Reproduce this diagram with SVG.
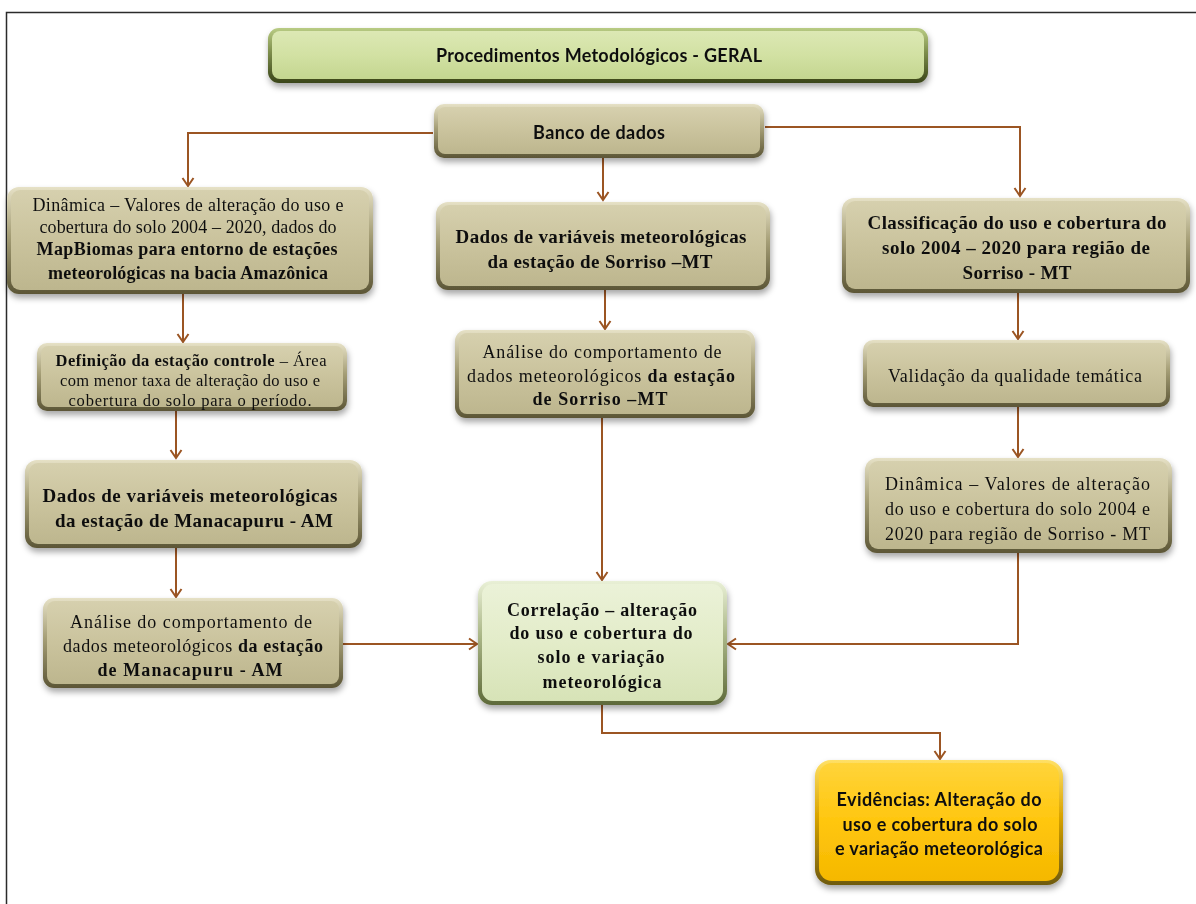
<svg xmlns="http://www.w3.org/2000/svg" width="1196" height="904" viewBox="0 0 1196 904">
<defs>
  <filter id="sh" x="-10%" y="-15%" width="125%" height="140%">
    <feDropShadow dx="1" dy="4" stdDeviation="3" flood-color="#000" flood-opacity="0.35"/>
  </filter>
  <linearGradient id="tanEdge" x1="0" y1="0" x2="0" y2="1">
    <stop offset="0" stop-color="#E6E1C6"/>
    <stop offset="0.45" stop-color="#A59E76"/>
    <stop offset="1" stop-color="#5C5636"/>
  </linearGradient>
  <linearGradient id="tanBody" x1="0" y1="0" x2="0" y2="1">
    <stop offset="0" stop-color="#D6D0AE"/>
    <stop offset="0.5" stop-color="#CAC39D"/>
    <stop offset="1" stop-color="#BDB68E"/>
  </linearGradient>
  <linearGradient id="grnEdge" x1="0" y1="0" x2="0" y2="1">
    <stop offset="0" stop-color="#B9CC84"/>
    <stop offset="0.45" stop-color="#7C8C4A"/>
    <stop offset="1" stop-color="#3A4519"/>
  </linearGradient>
  <linearGradient id="grnBody" x1="0" y1="0" x2="0" y2="1">
    <stop offset="0" stop-color="#DCE8B4"/>
    <stop offset="0.5" stop-color="#D2E1A3"/>
    <stop offset="1" stop-color="#C4D690"/>
  </linearGradient>
  <linearGradient id="lgEdge" x1="0" y1="0" x2="0" y2="1">
    <stop offset="0" stop-color="#E9F0D6"/>
    <stop offset="0.45" stop-color="#A9B585"/>
    <stop offset="1" stop-color="#5E6A3A"/>
  </linearGradient>
  <linearGradient id="lgBody" x1="0" y1="0" x2="0" y2="1">
    <stop offset="0" stop-color="#EBF2D8"/>
    <stop offset="0.5" stop-color="#E3ECC9"/>
    <stop offset="1" stop-color="#D7E3B7"/>
  </linearGradient>
  <linearGradient id="ylEdge" x1="0" y1="0" x2="0" y2="1">
    <stop offset="0" stop-color="#FFE066"/>
    <stop offset="0.45" stop-color="#D9A400"/>
    <stop offset="1" stop-color="#6E5A10"/>
  </linearGradient>
  <linearGradient id="ylBody" x1="0" y1="0" x2="0" y2="1">
    <stop offset="0" stop-color="#FFD43A"/>
    <stop offset="0.5" stop-color="#FFC60E"/>
    <stop offset="1" stop-color="#F5B800"/>
  </linearGradient>
  <marker id="arr" viewBox="-10 -7 12 14" markerWidth="12" markerHeight="14" refX="0" refY="0" orient="auto" markerUnits="userSpaceOnUse">
    <path d="M-8,-5.5 L0,0 L-8,5.5" fill="none" stroke="#9B5523" stroke-width="2"/>
  </marker>
  <style>
    .frame{fill:none;stroke:#2b2b2b;stroke-width:1.5}
    .conn path{fill:none;stroke:#9B5523;stroke-width:2}
    .conn path.a{marker-end:url(#arr)}
    .node{filter:url(#sh)}
    .tan .o{fill:url(#tanEdge)} .tan .i{fill:url(#tanBody)}
    .grn .o{fill:url(#grnEdge)} .grn .i{fill:url(#grnBody)}
    .lg .o{fill:url(#lgEdge)} .lg .i{fill:url(#lgBody)}
    .yl .o{fill:url(#ylEdge)} .yl .i{fill:url(#ylBody)}
    text{fill:#111;text-anchor:middle}
    .sans{font-family:Lato,"Open Sans",sans-serif;font-weight:bold;font-size:18px}
    .ev{font-family:Lato,"Open Sans",sans-serif;font-weight:bold;font-size:18px}
    .s{font-family:"Liberation Serif","Times New Roman",serif}
    .b{font-weight:bold}
    .f16{font-size:16.5px} .f17{font-size:18px} .f18{font-size:18px} .f18b{font-size:19px} .f19{font-size:19px}
    .l{text-anchor:start}
  </style>
</defs>
<rect width="1196" height="904" fill="#fff"/>
<path class="frame" d="M6.5,904 V12.5 H1196"/>

<g class="conn">
  <path class="a" d="M433,133 H188 V186"/>
  <path class="a" d="M603,158 V200"/>
  <path class="a" d="M765,127 H1020 V196"/>
  <path class="a" d="M183,294 V342"/>
  <path class="a" d="M176,411 V458"/>
  <path class="a" d="M176,548 V597"/>
  <path class="a" d="M343,644 H477"/>
  <path class="a" d="M605,290 V329"/>
  <path class="a" d="M602,418 V580"/>
  <path class="a" d="M1018,293 V339"/>
  <path class="a" d="M1018,407 V457"/>
  <path class="a" d="M1018,553 V644 H728"/>
  <path class="a" d="M602,705 V733 H940 V759"/>
</g>

<g id="titulo" class="node grn">
  <rect class="o" x="268" y="28" width="660" height="55" rx="11"/>
  <rect class="i" x="272" y="31" width="652" height="48" rx="8"/>
  <text class="sans" x="599" y="62" textLength="326">Procedimentos Metodológicos - GERAL</text>
</g>

<g id="banco" class="node tan">
  <rect class="o" x="434" y="104" width="330" height="54" rx="10"/>
  <rect class="i" x="438" y="107" width="322" height="47" rx="7"/>
  <text class="sans" x="599" y="139" textLength="132">Banco de dados</text>
</g>

<g id="dinamica-mapbiomas" class="node tan">
  <rect class="o" x="7" y="187" width="366" height="107" rx="12"/>
  <rect class="i" x="11" y="190" width="358" height="100" rx="9"/>
  <text class="s f18" x="188" y="211" textLength="311">Dinâmica –  Valores de  alteração do uso e</text>
  <text class="s f18" x="188" y="233" textLength="297">cobertura do solo  2004  – 2020,  dados do</text>
  <text class="s f18 b" x="187" y="255" textLength="301">MapBiomas para entorno de estações</text>
  <text class="s f18 b" x="188" y="279" textLength="280">meteorológicas na bacia Amazônica</text>
</g>

<g id="definicao" class="node tan">
  <rect class="o" x="37" y="343" width="310" height="68" rx="10"/>
  <rect class="i" x="41" y="346" width="302" height="61" rx="7"/>
  <text class="s f16" x="191" y="366" textLength="271"><tspan class="b">Definição da estação controle</tspan> – Área</text>
  <text class="s f16" x="190" y="386" textLength="260">com menor taxa de alteração  do uso e</text>
  <text class="s f16" x="190" y="406" textLength="243">cobertura do solo para o período.</text>
</g>

<g id="dados-manacapuru" class="node tan">
  <rect class="o" x="25" y="460" width="337" height="88" rx="12"/>
  <rect class="i" x="29" y="463" width="329" height="81" rx="9"/>
  <text class="s f19 b" x="190" y="502" textLength="295">Dados de variáveis meteorológicas</text>
  <text class="s f19 b" x="194" y="527" textLength="278">da estação de Manacapuru  - AM</text>
</g>

<g id="analise-manacapuru" class="node tan">
  <rect class="o" x="43" y="598" width="300" height="90" rx="11"/>
  <rect class="i" x="47" y="601" width="292" height="83" rx="8"/>
  <text class="s f17" x="191" y="628" textLength="242">Análise  do comportamento  de</text>
  <text class="s f17" x="193" y="652" textLength="260">dados meteorológicos  <tspan class="b">da estação</tspan></text>
  <text class="s f17 b" x="190" y="676" textLength="185">de Manacapuru  - AM</text>
</g>

<g id="dados-sorriso" class="node tan">
  <rect class="o" x="436" y="202" width="334" height="88" rx="12"/>
  <rect class="i" x="440" y="205" width="326" height="81" rx="9"/>
  <text class="s f19 b" x="601" y="243" textLength="291">Dados de variáveis meteorológicas</text>
  <text class="s f19 b" x="600" y="268" textLength="225">da estação de Sorriso –MT</text>
</g>

<g id="analise-sorriso" class="node tan">
  <rect class="o" x="455" y="330" width="300" height="88" rx="11"/>
  <rect class="i" x="459" y="333" width="292" height="81" rx="8"/>
  <text class="s f17" x="602" y="358" textLength="239">Análise  do comportamento  de</text>
  <text class="s f17" x="601" y="382" textLength="268">dados meteorológicos  <tspan class="b">da estação</tspan></text>
  <text class="s f17 b" x="600" y="405" textLength="135">de Sorriso –MT</text>
</g>

<g id="classificacao" class="node tan">
  <rect class="o" x="842" y="198" width="348" height="95" rx="12"/>
  <rect class="i" x="846" y="201" width="340" height="88" rx="9"/>
  <text class="s f18b b" x="1017" y="229" textLength="299">Classificação do uso e cobertura  do</text>
  <text class="s f18b b" x="1016" y="254" textLength="268">solo 2004 – 2020 para região de</text>
  <text class="s f18b b" x="1017" y="279" textLength="109">Sorriso - MT</text>
</g>

<g id="validacao" class="node tan">
  <rect class="o" x="863" y="340" width="307" height="67" rx="10"/>
  <rect class="i" x="867" y="343" width="299" height="60" rx="7"/>
  <text class="s f17" x="1015" y="382" textLength="254">Validação  da qualidade  temática</text>
</g>

<g id="dinamica-sorriso" class="node tan">
  <rect class="o" x="865" y="458" width="307" height="95" rx="12"/>
  <rect class="i" x="869" y="461" width="299" height="88" rx="9"/>
  <text class="s f17 l" x="885" y="490" textLength="265">Dinâmica – Valores de alteração</text>
  <text class="s f17 l" x="885" y="515" textLength="265">do uso e cobertura do solo 2004 e</text>
  <text class="s f17 l" x="885" y="540" textLength="265">2020 para região de Sorriso - MT</text>
</g>

<g id="correlacao" class="node lg">
  <rect class="o" x="478" y="581" width="249" height="124" rx="14"/>
  <rect class="i" x="482" y="584" width="241" height="117" rx="11"/>
  <text class="s f18 b" x="602" y="616" textLength="190">Correlação  – alteração</text>
  <text class="s f18 b" x="601" y="639" textLength="183">do uso e cobertura  do</text>
  <text class="s f18 b" x="601" y="663" textLength="127">solo e variação</text>
  <text class="s f18 b" x="602" y="688" textLength="119">meteorológica</text>
</g>

<g id="evidencias" class="node yl">
  <rect class="o" x="815" y="760" width="248" height="125" rx="16"/>
  <rect class="i" x="819" y="763" width="240" height="118" rx="13"/>
  <text class="ev" x="939" y="806" textLength="205">Evidências: Alteração do</text>
  <text class="ev" x="940" y="831" textLength="195">uso e cobertura do solo</text>
  <text class="ev" x="939" y="855" textLength="208">e variação meteorológica</text>
</g>
</svg>
